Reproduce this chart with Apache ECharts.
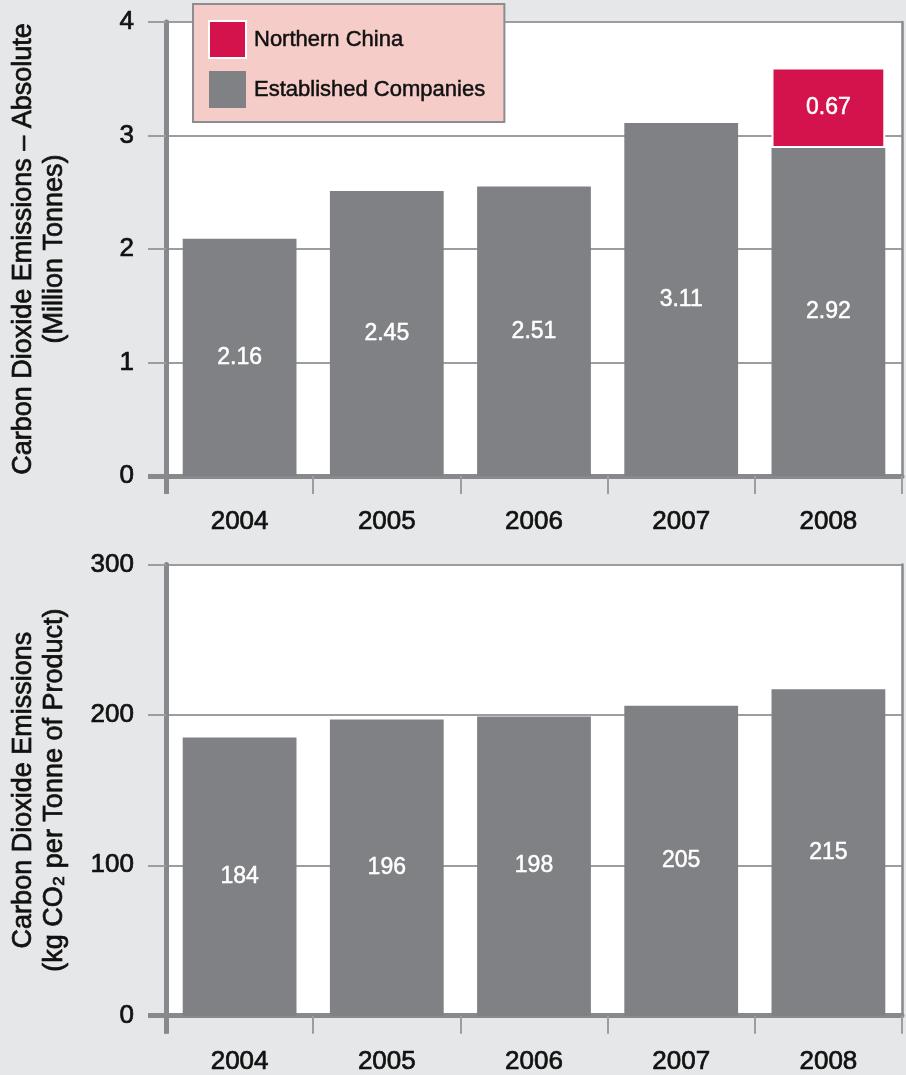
<!DOCTYPE html>
<html>
<head>
<meta charset="utf-8">
<script src="https://cdn.jsdelivr.net/npm/echarts@6/dist/echarts.min.js"></script>
<style>
html,body{margin:0;padding:0;background:#e6e7e8;}
#c{width:906px;height:1075px;}
</style>
</head>
<body>
<div id="c"></div>
<script>
// ---- data ----
const categories = ['2004', '2005', '2006', '2007', '2008'];
// Absolute emissions (million tonnes): bar heights as drawn, and printed labels
const establishedAbs = [2.09, 2.51, 2.55, 3.11, 2.89];
const establishedAbsLabels = ['2.16', '2.45', '2.51', '3.11', '2.92'];
const northernAbs = [null, null, null, null, 0.71];
const northernAbsLabels = ['', '', '', '', '0.67'];
// Intensity (kg CO2 per tonne of product)
const intensity = [185, 197, 199, 206, 217];
const intensityLabels = ['184', '196', '198', '205', '215'];
const absTicks = [0, 4, 1];      // min, max, interval
const intTicks = [0, 300, 100];  // min, max, interval

const FONT = '"Liberation Sans", Arial, Helvetica, sans-serif';
const GREY = '#808184';
const RED = '#d4124b';
const AXIS = '#88898c';
const GRID = '#9c9da0';
const TXT = '#111111';
const BOLDEN = {textBorderColor: TXT, textBorderWidth: 0.7};

function mainY(gi, t, name, nameGap) {
  return {
    type: 'value', gridIndex: gi, min: t[0], max: t[1], interval: t[2],
    name: name, nameLocation: 'middle', nameGap: nameGap, nameRotate: 90,
    nameTextStyle: Object.assign({fontFamily: FONT, fontSize: 27, color: TXT, lineHeight: 31, align: 'center'}, BOLDEN),
    axisLine: {show: true, lineStyle: {color: AXIS, width: 5}},
    axisTick: {show: true, length: 18, lineStyle: {color: GRID, width: 2}},
    axisLabel: Object.assign({fontFamily: FONT, fontSize: 26, color: TXT, margin: 32}, BOLDEN),
    splitLine: {show: true, lineStyle: {color: GRID, width: 2}}
  };
}
function rightY(gi, t) {
  return {
    type: 'value', gridIndex: gi, min: t[0], max: t[1], interval: t[2], position: 'right',
    axisLine: {show: true, lineStyle: {color: AXIS, width: 2.5}},
    axisTick: {show: false}, axisLabel: {show: false}, splitLine: {show: false}
  };
}
function zeroTickY(gi, t) {
  return {
    type: 'value', gridIndex: gi, min: t[0], max: t[1], interval: t[2], position: 'left',
    axisLine: {show: false},
    axisTick: {show: true, length: 18, customValues: [t[0]], lineStyle: {color: AXIS, width: 5}},
    axisLabel: {show: false}, splitLine: {show: false}
  };
}
function mainX(gi) {
  return {
    type: 'category', gridIndex: gi, data: categories,
    axisLine: {show: true, lineStyle: {color: AXIS, width: 5}},
    axisTick: {show: true, length: 18, interval: 0, lineStyle: {color: GRID, width: 2}},
    axisLabel: Object.assign({fontFamily: FONT, fontSize: 26, color: TXT, margin: 33, interval: 0}, BOLDEN),
    splitLine: {show: false}
  };
}
function firstTickX(gi) {
  return {
    type: 'value', gridIndex: gi, min: 0, max: categories.length, position: 'bottom',
    axisLine: {show: false},
    axisTick: {show: true, length: 18, customValues: [0], lineStyle: {color: AXIS, width: 5}},
    axisLabel: {show: false}, splitLine: {show: false}
  };
}
function barLabel(labels) {
  return {
    show: true, position: 'inside', color: '#ffffff', fontFamily: FONT, fontSize: 23,
    textBorderColor: '#ffffff', textBorderWidth: 0.5,
    formatter: p => labels[p.dataIndex]
  };
}

const option = {
  animation: false,
  backgroundColor: '#e6e7e8',
  grid: [
    {left: 165, right: 4, top: 22, height: 454, show: true, backgroundColor: '#ffffff', borderWidth: 0},
    {left: 165, right: 4, top: 564.5, height: 453.5, show: true, backgroundColor: '#ffffff', borderWidth: 0}
  ],
  legend: {
    data: ['Northern China', 'Established Companies'],
    orient: 'vertical', left: 193, top: 4,
    backgroundColor: '#f5ccc8', borderColor: '#8c8d90', borderWidth: 2, borderRadius: 0,
    padding: [16, 19, 14, 15], itemGap: 12, itemWidth: 37, itemHeight: 37,
    icon: 'rect',
    textStyle: Object.assign({fontFamily: FONT, fontSize: 22, color: TXT, padding: [0, 0, 0, 3]}, {textBorderColor: TXT, textBorderWidth: 0.5}),
    selectedMode: false, z: 10
  },
  xAxis: [mainX(0), mainX(1), firstTickX(0), firstTickX(1)],
  yAxis: [
    mainY(0, absTicks, 'Carbon Dioxide Emissions – Absolute\n(Million Tonnes)', 96),
    mainY(1, intTicks, 'Carbon Dioxide Emissions\n(kg CO₂ per Tonne of Product)', 96),
    rightY(0, absTicks), rightY(1, intTicks),
    zeroTickY(0, absTicks), zeroTickY(1, intTicks)
  ],
  series: [
    {
      name: 'Established Companies', type: 'bar', xAxisIndex: 0, yAxisIndex: 0, stack: 'abs',
      data: establishedAbs, barCategoryGap: '22.7%',
      itemStyle: {color: GREY}, label: barLabel(establishedAbsLabels)
    },
    {
      name: 'Northern China', type: 'bar', xAxisIndex: 0, yAxisIndex: 0, stack: 'abs',
      data: northernAbs, barCategoryGap: '22.7%',
      itemStyle: {color: RED, borderColor: '#ffffff', borderWidth: 2},
      label: barLabel(northernAbsLabels)
    },
    {
      name: 'Intensity', type: 'bar', xAxisIndex: 1, yAxisIndex: 1,
      data: intensity, barCategoryGap: '22.7%',
      itemStyle: {color: GREY}, label: barLabel(intensityLabels)
    }
  ]
};
const chart = echarts.init(document.getElementById('c'), null, {renderer: 'canvas'});
chart.setOption(option);
</script>
</body>
</html>
